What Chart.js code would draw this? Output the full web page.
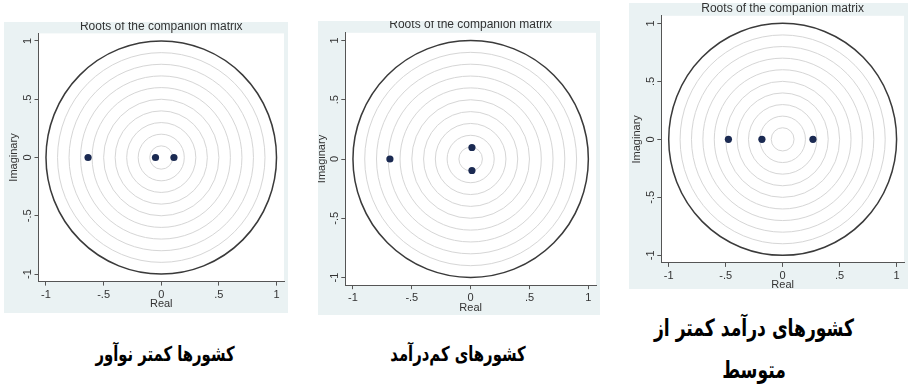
<!DOCTYPE html>
<html>
<head>
<meta charset="utf-8">
<script src="https://cdn.jsdelivr.net/npm/chart.js@4.4.1/dist/chart.umd.min.js"></script>
<style>
  html, body { margin: 0; padding: 0; background: #ffffff; }
  body { width: 908px; height: 388px; position: relative; overflow: hidden; }
  .panel { position: absolute; }
  .panel canvas { display: block; }
  .caption {
    position: absolute; width: 300px; margin-left: -150px;
    font-family: "DejaVu Sans", sans-serif; font-weight: bold;
    line-height: 1.2; color: #000; direction: rtl; text-align: center; white-space: nowrap;
    transform: scale(0.78, 1.08); transform-origin: 50% 50%;
  }
</style>
</head>
<body>
<div class="panel" id="panel1"><canvas id="chart1"></canvas></div>
<div class="panel" id="panel2"><canvas id="chart2"></canvas></div>
<div class="panel" id="panel3"><canvas id="chart3"></canvas></div>

<script>
// ---- values ----
const chartTitle = 'Roots of the companion matrix';
const xAxisTitle = 'Real';
const yAxisTitle = 'Imaginary';
const axisTickValues = [-1, -0.5, 0, 0.5, 1];
const axisTickLabels = ['-1', '-.5', '0', '.5', '1'];
const gridRingRadii = [0.1, 0.2, 0.3, 0.4, 0.5, 0.6, 0.7, 0.8, 0.9];
const unitCircleRadius = 1;
const axisLimit = 1.065;

// eigenvalues of the companion matrix (real and imaginary parts)
const lessInnovativeReal = [-0.635, -0.05, 0.11];
const lessInnovativeImag = [0, 0, 0];
const lowIncomeReal = [-0.686, 0.011, 0.011];
const lowIncomeImag = [0, 0.097, -0.097];
const lowerMiddleReal = [-0.476, -0.182, 0.266];
const lowerMiddleImag = [0, 0, 0];

// captions under each graph (one entry per line)
const lessInnovativeCaption = ['کشورها کمتر نوآور'];
const lowIncomeCaption = ['کشورهای کم\u200cدرآمد'];
const lowerMiddleCaption = ['کشورهای درآمد کمتر از', 'متوسط'];

// ---- layout of the three panels ----
const panels = [
  { id: 'chart1', box: 'panel1', left: 4, top: 22, width: 284, height: 291,
    yAxisWidth: 34.5, xAxisHeight: 31.4, padRight: 3.5,
    titleTop: -1.3, titleBottom: 0.7, imagPad: 4.5, realPad: 3.5, xTickPad: 4, yTickPad: 0,
    real: lessInnovativeReal, imag: lessInnovativeImag,
    caption: lessInnovativeCaption, capX: 165, capY: 342, capGap: 42, capSize: 19 },
  { id: 'chart2', box: 'panel2', left: 318, top: 21, width: 282, height: 294,
    yAxisWidth: 27.3, xAxisHeight: 29.8, padRight: 3.3,
    titleTop: -2, titleBottom: 1.8, imagPad: -1.8, realPad: 1.5, xTickPad: 3, yTickPad: 0,
    real: lowIncomeReal, imag: lowIncomeImag,
    caption: lowIncomeCaption, capX: 458, capY: 342, capGap: 42, capSize: 19 },
  { id: 'chart3', box: 'panel3', left: 629, top: 3, width: 279, height: 286,
    yAxisWidth: 32.3, xAxisHeight: 26.1, padRight: 0.7,
    titleTop: 0, titleBottom: 0.8, imagPad: 2.2, realPad: -1.5, xTickPad: 3.5, yTickPad: 0,
    real: lowerMiddleReal, imag: lowerMiddleImag,
    caption: lowerMiddleCaption, capX: 754, capY: 315, capGap: 42, capSize: 22 }
];

const FONT = '"Liberation Sans", Arial, sans-serif';
const BG = '#eaf2f3';
const AXIS_COLOR = '#555555';
const TEXT_COLOR = '#333333';
const RING_COLOR = '#d6d6d6';
const UNIT_COLOR = '#3a3a3a';
const ROOT_COLOR = '#1b2a52';

// panel background, white plot region and the concentric reference circles
const stataFrame = {
  id: 'stataFrame',
  beforeDraw(chart) {
    const { ctx, chartArea: a, width, height } = chart;
    ctx.save();
    ctx.fillStyle = BG;
    ctx.fillRect(0, 0, width, height);
    ctx.fillStyle = '#ffffff';
    ctx.fillRect(a.left, a.top, a.right - a.left, a.bottom - a.top);
    ctx.restore();
  },
  beforeDatasetsDraw(chart) {
    const { ctx, scales: { x, y } } = chart;
    const cx = x.getPixelForValue(0);
    const cy = y.getPixelForValue(0);
    const ring = (r, color, w) => {
      const rx = Math.abs(x.getPixelForValue(r) - cx);
      const ry = Math.abs(y.getPixelForValue(r) - cy);
      ctx.beginPath();
      ctx.ellipse(cx, cy, rx, ry, 0, 0, Math.PI * 2);
      ctx.strokeStyle = color;
      ctx.lineWidth = w;
      ctx.stroke();
    };
    ctx.save();
    gridRingRadii.forEach(r => ring(r, RING_COLOR, 1));
    ring(unitCircleRadius, UNIT_COLOR, 1.5);
    ctx.restore();
  }
};

function setTicks(scale) {
  scale.ticks = axisTickValues.map(v => ({ value: v }));
}

function buildChart(p) {
  const box = document.getElementById(p.box);
  box.style.left = p.left + 'px';
  box.style.top = p.top + 'px';
  const canvas = document.getElementById(p.id);
  canvas.width = p.width;
  canvas.height = p.height;

  const tickFont = { family: FONT, size: 11, lineHeight: 1 };
  const commonGrid = { drawOnChartArea: false, drawTicks: true, tickLength: 4, color: AXIS_COLOR, lineWidth: 1 };
  const commonBorder = { display: true, color: AXIS_COLOR, width: 1 };

  new Chart(canvas, {
    type: 'scatter',
    data: {
      datasets: [{
        data: p.real.map((re, i) => ({ x: re, y: p.imag[i] })),
        pointRadius: 3.6,
        pointBackgroundColor: ROOT_COLOR,
        pointBorderWidth: 0,
        showLine: false
      }]
    },
    options: {
      responsive: false,
      animation: false,
      events: [],
      layout: { padding: { left: 0, right: p.padRight, top: 0, bottom: 0 } },
      plugins: {
        legend: { display: false },
        tooltip: { enabled: false },
        title: {
          display: true, text: chartTitle, fullSize: false, color: TEXT_COLOR,
          font: { family: FONT, size: 12, weight: 'normal', lineHeight: 1 },
          padding: { top: p.titleTop, bottom: p.titleBottom }
        }
      },
      scales: {
        x: {
          type: 'linear', position: 'bottom', min: -axisLimit, max: axisLimit,
          afterBuildTicks: setTicks,
          afterFit: s => { s.height = p.xAxisHeight; },
          ticks: {
            autoSkip: false, minRotation: 0, maxRotation: 0, padding: p.xTickPad,
            color: TEXT_COLOR, font: tickFont,
            callback: (v, i) => axisTickLabels[i]
          },
          grid: commonGrid,
          border: commonBorder,
          title: {
            display: true, text: xAxisTitle, color: TEXT_COLOR,
            font: { family: FONT, size: 11, lineHeight: 1 },
            padding: { top: 0, bottom: p.realPad }
          }
        },
        y: {
          type: 'linear', position: 'left', min: -axisLimit, max: axisLimit,
          afterBuildTicks: setTicks,
          afterFit: s => { s.width = p.yAxisWidth; },
          ticks: {
            autoSkip: false, minRotation: 90, maxRotation: 90, crossAlign: 'center',
            padding: p.yTickPad, color: TEXT_COLOR, font: tickFont,
            callback: (v, i) => axisTickLabels[i]
          },
          grid: commonGrid,
          border: commonBorder,
          title: {
            display: true, text: yAxisTitle, color: TEXT_COLOR,
            font: { family: FONT, size: 11, lineHeight: 1 },
            padding: { top: p.imagPad, bottom: 0 }
          }
        }
      }
    },
    plugins: [stataFrame]
  });

  p.caption.forEach((line, k) => {
    const d = document.createElement('div');
    d.className = 'caption';
    d.textContent = line;
    d.style.fontSize = p.capSize + 'px';
    d.style.left = p.capX + 'px';
    d.style.top = (p.capY + k * p.capGap) + 'px';
    document.body.appendChild(d);
  });
}

panels.forEach(buildChart);
</script>
</body>
</html>
